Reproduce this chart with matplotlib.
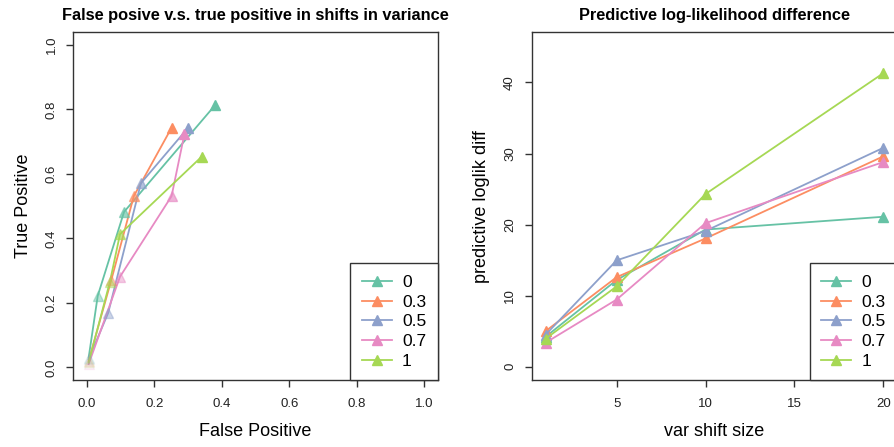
import numpy as np
import matplotlib.pyplot as plt
from matplotlib.lines import Line2D

plt.rcParams['font.family'] = ['Liberation Sans', 'DejaVu Sans']

# correlation settings (legend) and Set2 colours
rho_labels = ['0', '0.3', '0.5', '0.7', '1']
cols = ['#66C2A5', '#FC8D62', '#8DA0CB', '#E78AC3', '#A6D854']

# variance shift sizes
shift = [1, 5, 10, 20]
# marker transparency grows with shift size
shift_alpha = [0.12, 0.45, 0.65, 1.0]

# false positive / true positive rate for each rho, one value per shift size
fp = [[0.005, 0.032, 0.110, 0.380],
      [0.005, 0.072, 0.139, 0.251],
      [0.005, 0.063, 0.160, 0.300],
      [0.005, 0.098, 0.251, 0.289],
      [0.005, 0.068, 0.098, 0.340]]
tp = [[0.030, 0.222, 0.482, 0.813],
      [0.020, 0.270, 0.531, 0.743],
      [0.025, 0.169, 0.571, 0.743],
      [0.010, 0.281, 0.531, 0.723],
      [0.015, 0.265, 0.413, 0.653]]

# predictive log-likelihood difference for each rho
pll = [[4.2, 12.2, 19.3, 21.1],
       [5.0, 12.6, 18.05, 29.6],
       [4.5, 14.97, 19.1, 30.8],
       [3.37, 9.45, 20.2, 28.8],
       [3.93, 11.3, 24.3, 41.3]]

fig = plt.figure(figsize=(8.94, 4.47), dpi=100)
ax1 = fig.add_axes([0.0822, 0.1494, 0.4072, 0.779])
ax2 = fig.add_axes([0.5951, 0.1494, 0.4080, 0.779])

box_col = '#333333'


def r_style(ax):
    for s in ax.spines.values():
        s.set_color(box_col)
        s.set_linewidth(1.0)
    ax.tick_params(direction='out', length=5, width=1.0, color=box_col,
                   labelsize=9.5, labelcolor='#222222')
    ax.tick_params(axis='x', pad=8)
    ax.tick_params(axis='y', pad=6.5)
    for t in ax.get_yticklabels():
        t.set_rotation(90)
        t.set_va('center')


def r_legend(ax, handles):
    leg = ax.legend(handles=handles, loc='lower right', borderaxespad=0,
                    fontsize=12.5, fancybox=False, framealpha=1,
                    edgecolor=box_col, handlelength=1.72, handletextpad=0.6,
                    labelspacing=0.265, borderpad=0.65)
    leg.get_frame().set_linewidth(1.0)
    return leg


# left panel: ROC-like curves
for i in range(len(rho_labels)):
    ax1.plot(fp[i], tp[i], color=cols[i], lw=1.3, zorder=2)
    for j in range(len(shift)):
        ax1.plot(fp[i][j], tp[i][j], marker='^', ms=7.5, color=cols[i],
                 alpha=shift_alpha[j], ls='none', zorder=3)

ax1.set_xlim(-0.04, 1.04)
ax1.set_ylim(-0.04, 1.04)
ax1.set_xticks(np.arange(0, 1.01, 0.2))
ax1.set_yticks(np.arange(0, 1.01, 0.2))
ax1.set_xticklabels(['0.0', '0.2', '0.4', '0.6', '0.8', '1.0'])
ax1.set_yticklabels(['0.0', '0.2', '0.4', '0.6', '0.8', '1.0'])
r_style(ax1)
ax1.set_xlabel('False Positive', fontsize=13, labelpad=9)
ax1.set_ylabel('True Positive', fontsize=13, labelpad=10)
ax1.set_title('False posive v.s. true positive in shifts in variance',
              fontsize=11.8, fontweight='bold', pad=9)
handles = [Line2D([], [], color=c, lw=1.3, marker='^', ms=7.5, label=l)
           for c, l in zip(cols, rho_labels)]
r_legend(ax1, handles)

# right panel: predictive log-likelihood difference vs shift size
for i in range(len(rho_labels)):
    ax2.plot(shift, pll[i], color=cols[i], lw=1.3, marker='^', ms=7.5,
             label=rho_labels[i])

ax2.set_xlim(0.24, 20.76)
ax2.set_ylim(-1.9, 47.1)
ax2.set_xticks([5, 10, 15, 20])
ax2.set_yticks([0, 10, 20, 30, 40])
r_style(ax2)
ax2.set_xlabel('var shift size', fontsize=13, labelpad=9)
ax2.set_ylabel('predictive loglik diff', fontsize=13, labelpad=10)
ax2.set_title('Predictive log-likelihood difference',
              fontsize=11.8, fontweight='bold', pad=9)
r_legend(ax2, ax2.get_legend_handles_labels()[0])

fig.savefig('out.png', dpi=100)
